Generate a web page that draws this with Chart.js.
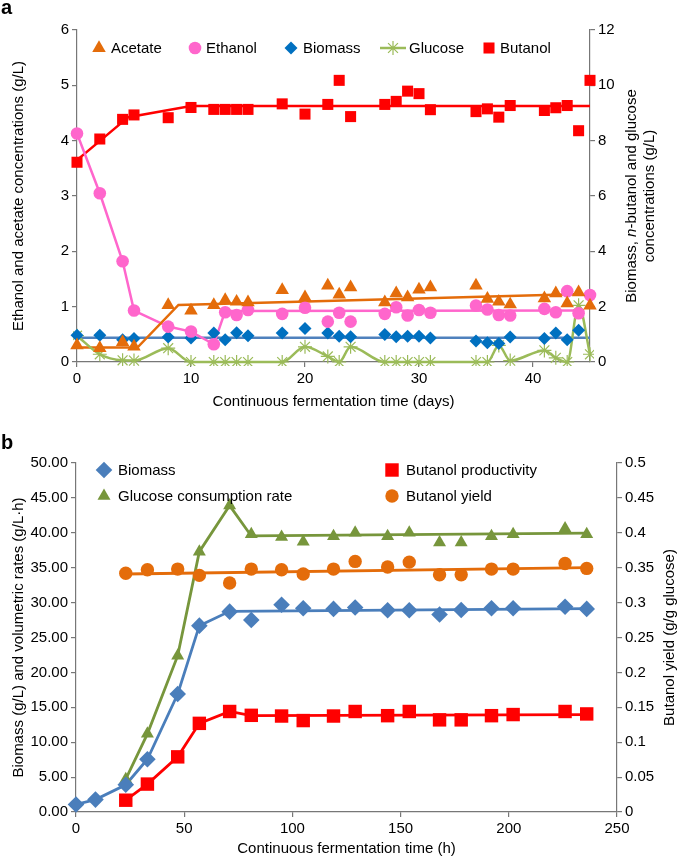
<!DOCTYPE html>
<html>
<head>
<meta charset="utf-8">
<script src="https://cdn.jsdelivr.net/npm/chart.js@4.4.0/dist/chart.umd.min.js"></script>
<style>
body { margin:0; background:#fff; width:685px; height:860px; position:relative; overflow:hidden; font-family:"Liberation Sans", Arial, sans-serif; }
canvas { position:absolute; left:0; }
.tag { position:absolute; left:1px; font-weight:bold; font-size:20px; line-height:20px; }
</style>
</head>
<body>
<canvas id="chartA" width="685" height="414" style="top:0"></canvas>
<canvas id="chartB" width="685" height="440" style="top:420px"></canvas>
<div class="tag" style="top:-3px">a</div>
<div class="tag" style="top:432px">b</div>
<script>
// ---- panel a : concentrations vs days ----
var days = [0,2,4,5,8,10,12,13,14,15,18,20,22,23,24,27,28,29,30,31,35,36,37,38,41,42,43,44,45];
var acetate = [0.30,0.25,0.36,0.28,1.03,0.93,1.03,1.12,1.09,1.08,1.30,1.17,1.38,1.22,1.35,1.08,1.24,1.17,1.31,1.35,1.38,1.14,1.09,1.04,1.15,1.24,1.06,1.26,1.02];
var ethanol = [4.13,3.05,1.82,0.93,0.64,0.55,0.32,0.90,0.85,0.94,0.87,0.98,0.73,0.89,0.73,0.87,0.99,0.84,0.94,0.89,1.02,0.95,0.85,0.84,0.96,0.90,1.28,0.88,1.21];
var biomassA = [0.97,0.97,0.80,0.85,0.90,0.87,1.05,0.80,1.06,0.95,1.05,1.21,1.05,0.93,0.91,0.99,0.91,0.93,0.93,0.87,0.76,0.70,0.67,0.90,0.85,1.05,0.80,1.15,null];
var glucoseA = [0.95,0.28,0.06,0.05,0.50,0,0,0,0,0,0,0.55,0.20,0,0.55,0,0,0,0,0,0,0,0.60,0.05,0.42,0.15,0,2.05,0.28];
var butanol = [7.22,8.06,8.77,8.93,8.83,9.20,9.13,9.13,9.13,9.13,9.33,8.96,9.31,10.18,8.87,9.31,9.42,9.79,9.70,9.12,9.05,9.15,8.85,9.27,9.09,9.19,9.27,8.36,10.18];

// fitted lines drawn in the figure
var acetateFitX = [0,5.3,8.9,44.3], acetateFitY = [0.26,0.26,1.03,1.23];
var ethanolFitX = [0,2,4,5,8,10,12,13,44.5], ethanolFitY = [4.13,3.05,1.82,0.93,0.64,0.55,0.32,0.92,0.93];
var biomassFitX = [0,45], biomassFitY = [0.88,0.88];
var butanolFitX = [0,4.5,10,45], butanolFitY = [7.3,8.85,9.25,9.25];

// ---- panel b : rates vs hours ----
var hours = [0,9,23,33,47,57,71,81,95,105,119,129,144,154,168,178,192,202,226,236];
var biomassB = [1.08,1.78,3.9,7.56,16.9,26.7,28.7,27.5,29.7,29.2,29.1,29.3,28.9,28.9,28.3,28.95,29.2,29.2,29.4,29.1];
var glucoseRate = [null,null,4.7,11.2,22.4,37.3,43.9,39.8,39.4,38.7,39.5,40.0,39.5,40.0,38.6,38.6,39.5,39.8,40.6,39.8];
var productivity = [null,null,1.69,4.0,7.9,12.7,14.4,13.85,13.75,13.1,13.75,14.4,13.8,14.4,13.2,13.2,13.8,13.96,14.4,14.05];
var yieldB = [null,null,0.342,0.347,0.348,0.339,0.328,0.348,0.347,0.341,0.348,0.359,0.351,0.358,0.340,0.340,0.348,0.348,0.356,0.349];

var biomassBFitX = [0,9,23,33,47,57,71,236], biomassBFitY = [1.08,1.78,3.9,7.56,16.9,26.7,28.75,29.15];
var glucoseFitX = [23,33,47,57,71,81,236], glucoseFitY = [4.7,11.2,22.4,37.3,43.9,39.55,39.95];
var prodFitX = [23,33,47,57,71,81,236], prodFitY = [1.69,4.0,7.9,12.7,14.4,13.8,13.95];
var yieldFitX = [23,236], yieldFitY = [0.341,0.350];

var FONT = '"Liberation Sans", Arial, sans-serif';

function pts(xs, ys) {
  var out = [];
  for (var i = 0; i < xs.length; i++) {
    if (ys[i] != null) out.push({x: xs[i], y: ys[i]});
  }
  return out;
}

function marks(label, xs, ys, axis, style, color, r, extra) {
  var d = {label: label, data: pts(xs, ys), yAxisID: axis, showLine: false,
    pointStyle: style, pointRadius: r, pointHoverRadius: r,
    backgroundColor: color, borderColor: color, pointBorderWidth: 0, clip: false};
  for (var k in extra) d[k] = extra[k];
  return d;
}
function fit(xs, ys, axis, color, w) {
  return {label: '', data: pts(xs, ys), yAxisID: axis, showLine: true, pointRadius: 0,
    borderColor: color, borderWidth: w, fill: false};
}

// legend drawn inside the plot like the original
var boxLegend = {
  id: 'boxLegend',
  afterDraw: function(chart, args, opts) {
    var ctx = chart.ctx;
    opts.items.forEach(function(it) {
      var ds = chart.data.datasets[it.ds];
      ctx.save();
      if (it.line) {
        ctx.strokeStyle = ds.borderColor; ctx.lineWidth = 2.5;
        ctx.beginPath(); ctx.moveTo(it.x - 13, it.y); ctx.lineTo(it.x + 13, it.y); ctx.stroke();
      }
      ctx.fillStyle = ds.backgroundColor;
      ctx.strokeStyle = ds.borderColor;
      ctx.lineWidth = ds.pointBorderWidth || 0;
      Chart.helpers.drawPoint(ctx, {pointStyle: ds.pointStyle, radius: ds.pointRadius, rotation: 0, borderWidth: ds.pointBorderWidth || 0}, it.x, it.y);
      ctx.fillStyle = '#000';
      ctx.font = '15px ' + FONT;
      ctx.textBaseline = 'middle'; ctx.textAlign = 'left';
      ctx.fillText(ds.label, it.tx, it.y + 1);
      ctx.restore();
    });
  }
};

// right axis titles read bottom-to-top
var sideTitle = {
  id: 'sideTitle',
  afterDraw: function(chart, args, opts) {
    var ctx = chart.ctx, a = chart.chartArea;
    var cy = (a.top + a.bottom) / 2;
    opts.lines.forEach(function(line) {
      ctx.save();
      ctx.translate(line.x, cy);
      ctx.rotate(-Math.PI / 2);
      ctx.fillStyle = '#000';
      ctx.textBaseline = 'middle'; ctx.textAlign = 'left';
      var total = 0;
      line.parts.forEach(function(p) {
        ctx.font = (p[1] ? 'italic ' : '') + '15px ' + FONT;
        total += ctx.measureText(p[0]).width;
      });
      var cx = -total / 2;
      line.parts.forEach(function(p) {
        ctx.font = (p[1] ? 'italic ' : '') + '15px ' + FONT;
        ctx.fillText(p[0], cx, 0);
        cx += ctx.measureText(p[0]).width;
      });
      ctx.restore();
    });
  }
};

function axis(pos, min, max, step, size, fmt, title, titlePad) {
  var s = {
    type: 'linear', position: pos, min: min, max: max,
    grid: {drawOnChartArea: false, color: '#777', tickLength: 5, lineWidth: 1.2},
    border: {color: '#777', width: 1.2},
    ticks: {stepSize: step, color: '#000', font: {size: 15, family: FONT}, padding: 3, maxRotation: 0, autoSkip: false},
    afterFit: function(sc) { if (pos === 'bottom') sc.height = size; else sc.width = size; }
  };
  if (fmt) s.ticks.callback = fmt;
  if (title) s.title = {display: true, text: title, color: '#000', font: {size: 15, family: FONT}, padding: titlePad};
  return s;
}

var xA = axis('bottom', 0, 45, 10, 52, null, 'Continuous fermentation time (days)', {top: 0, bottom: 3});
xA.afterBuildTicks = function(sc) { sc.ticks = sc.ticks.filter(function(t) { return t.value % 10 === 0; }); };

new Chart(document.getElementById('chartA'), {
  type: 'scatter',
  data: {datasets: [
    marks('Acetate', days, acetate, 'y', 'triangle', '#E46C0A', 7.8),
    marks('Ethanol', days, ethanol, 'y', 'circle', '#FF66CC', 6.3),
    marks('Biomass', days, biomassA, 'y2', 'rectRot', '#0070C0', 6.5),
    marks('Glucose', days, glucoseA, 'y2', 'star', '#9BBB59', 7,
      {showLine: true, borderWidth: 2.5, pointBorderWidth: 1.2, cubicInterpolationMode: 'monotone', clip: 4}),
    marks('Butanol', days, butanol, 'y2', 'rect', '#FF0000', 7.8),
    fit(acetateFitX, acetateFitY, 'y', '#E46C0A', 2.5),
    fit(ethanolFitX, ethanolFitY, 'y', '#FF66CC', 2.5),
    fit(biomassFitX, biomassFitY, 'y2', '#4F81BD', 2.5),
    fit(butanolFitX, butanolFitY, 'y2', '#FF0000', 2.5)
  ]},
  options: {
    responsive: false, animation: false,
    layout: {padding: {top: 30, left: 0, right: 0, bottom: 0}},
    plugins: {
      legend: {display: false}, tooltip: {enabled: false},
      boxLegend: {items: [
        {ds: 0, x: 99, tx: 111, y: 48},
        {ds: 1, x: 195, tx: 206, y: 48},
        {ds: 2, x: 291, tx: 303, y: 48},
        {ds: 3, x: 393, tx: 409, y: 48, line: true},
        {ds: 4, x: 489, tx: 500, y: 48}
      ]},
      sideTitle: {lines: [
        {x: 632, parts: [['Biomass, ', false], ['n', true], ['-butanol and glucose', false]]},
        {x: 650, parts: [['concentrations (g/L)', false]]}
      ]}
    },
    scales: {
      x: xA,
      y: axis('left', 0, 6, 1, 77, null, 'Ethanol and acetate concentrations (g/L)', {top: 10, bottom: 0}),
      y2: axis('right', 0, 12, 2, 95, null, null)
    }
  },
  plugins: [boxLegend, sideTitle]
});

function fmtRight(v) { return String(parseFloat(v.toFixed(2))); }

new Chart(document.getElementById('chartB'), {
  type: 'scatter',
  data: {datasets: [
    marks('Biomass', hours, biomassB, 'y', 'rectRot', '#4A7EBB', 8.3),
    marks('Glucose consumption rate', hours, glucoseRate, 'y', 'triangle', '#77963C', 7.5),
    marks('Butanol productivity', hours, productivity, 'y', 'rect', '#FF0000', 9.5),
    marks('Butanol yield', hours, yieldB, 'y2', 'circle', '#E46C0A', 6.7),
    fit(biomassBFitX, biomassBFitY, 'y', '#4A7EBB', 2.8),
    fit(glucoseFitX, glucoseFitY, 'y', '#77963C', 2.8),
    fit(prodFitX, prodFitY, 'y', '#FF0000', 2.8),
    fit(yieldFitX, yieldFitY, 'y2', '#E46C0A', 2.8)
  ]},
  options: {
    responsive: false, animation: false,
    layout: {padding: {top: 43, left: 0, right: 0, bottom: 0}},
    plugins: {
      legend: {display: false}, tooltip: {enabled: false},
      boxLegend: {items: [
        {ds: 0, x: 104, tx: 118, y: 50},
        {ds: 1, x: 104, tx: 118, y: 76},
        {ds: 2, x: 392, tx: 406, y: 50},
        {ds: 3, x: 392, tx: 406, y: 76}
      ]},
      sideTitle: {lines: [
        {x: 670, parts: [['Butanol yield (g/g glucose)', false]]}
      ]}
    },
    scales: {
      x: axis('bottom', 0, 250, 50, 48, null, 'Continuous fermentation time (h)', {top: 0, bottom: 2}),
      y: axis('left', 0, 50, 5, 76, function(v) { return v.toFixed(2); }, 'Biomass (g/L) and volumetric rates (g/L\u00b7h)', {top: 10, bottom: 0}),
      y2: axis('right', 0, 0.5, 0.05, 68, fmtRight, null)
    }
  },
  plugins: [boxLegend, sideTitle]
});
</script>
</body>
</html>
